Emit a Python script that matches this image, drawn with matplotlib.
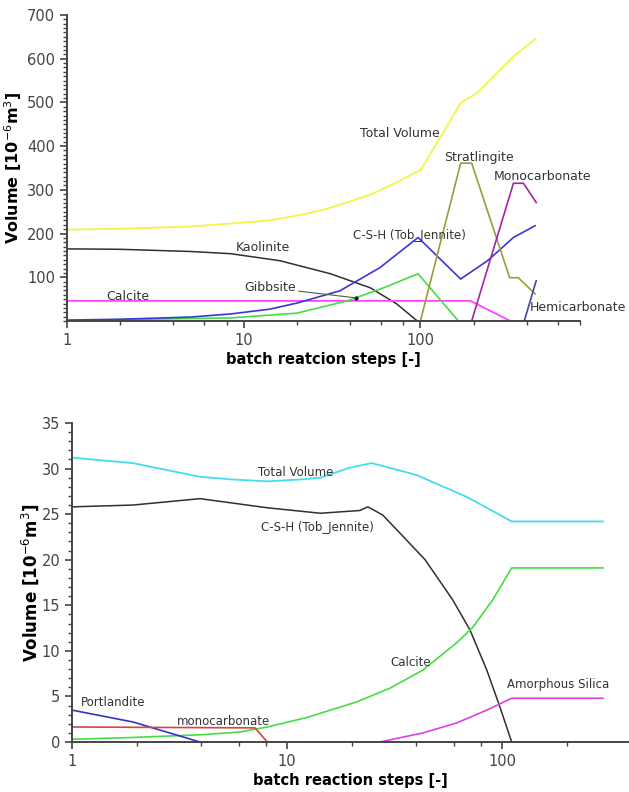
import numpy as np
import matplotlib
matplotlib.use('Agg')
import matplotlib.pyplot as plt
from matplotlib.ticker import FixedLocator, FuncFormatter, MultipleLocator

# ---- top panel data (batch steps vs volume) ----
tv1_x = [1, 2, 5, 8.4, 14, 20, 28, 38.5, 52, 67.5, 100, 134, 169, 210, 336, 446]
tv1_y = [209, 211, 216, 223, 230, 241, 254, 271, 289, 310, 345, 430, 499, 522, 605, 645]

kao_x = [1, 2, 5, 8.4, 16, 31, 52, 73.5, 96]
kao_y = [165, 164, 159, 154, 138, 108, 76, 39, 0]

gib_x = [1, 2, 4, 8.4, 20, 38.5, 62, 97, 164]
gib_y = [1, 3, 5, 7, 18, 46, 76, 108, 0]

csh1_x = [1, 2, 5, 8.4, 14, 20, 35, 59, 97, 169, 240, 336, 446]
csh1_y = [2, 4, 9, 16, 27, 41, 69, 122, 191, 96, 138, 191, 218]

cal1_x = [1, 192, 323]
cal1_y = [46, 46, 0]

str_x = [100, 169, 195, 320, 358, 446]
str_y = [0, 361, 361, 99, 99, 62]

mono1_x = [195, 336, 383, 452]
mono1_y = [0, 315, 315, 271]

hemi_x = [387, 452]
hemi_y = [0, 92]

gib_point = (43, 53)

# ---- bottom panel data ----
tv2_x = [1, 1.92, 3.94, 5.6, 8.1, 11.5, 14.3, 19.6, 24.8, 40, 68.5, 111, 295]
tv2_y = [31.2, 30.6, 29.1, 28.8, 28.6, 28.8, 29.0, 30.1, 30.6, 29.3, 26.9, 24.2, 24.2]

csh2_x = [1, 1.92, 3.94, 8.1, 14.3, 21.8, 23.8, 27.9, 33.6, 43.9, 59, 71, 85, 98, 111]
csh2_y = [25.8, 26.0, 26.7, 25.7, 25.1, 25.4, 25.8, 24.9, 22.9, 20.0, 15.6, 12.3, 7.9, 3.8, 0]

cal2_x = [1, 1.92, 4, 6.04, 8.1, 12.4, 21.1, 30.1, 42.9, 61.7, 73.3, 90.6, 111, 295]
cal2_y = [0.3, 0.5, 0.8, 1.1, 1.65, 2.7, 4.4, 5.9, 7.9, 10.9, 12.6, 15.6, 19.1, 19.1]

amo_x = [27, 42.9, 61.7, 85, 111, 295]
amo_y = [0, 1.0, 2.1, 3.5, 4.8, 4.8]

por_x = [1, 1.92, 3.94]
por_y = [3.5, 2.2, 0]

mono2_x = [1, 7.1, 8.1]
mono2_y = [1.65, 1.55, 0]

ylabel = 'Volume [10$^{-6}$m$^{3}$]'
txt_c = '#333333'
axis_c = '#444444'


def style_axes(ax):
  ax.spines['top'].set_visible(False)
  ax.spines['right'].set_visible(False)
  for s in ('left', 'bottom'):
    ax.spines[s].set_color(axis_c)
    ax.spines[s].set_linewidth(1.4)
  ax.set_xscale('log')
  ax.xaxis.set_major_locator(FixedLocator([1, 10, 100]))
  ax.xaxis.set_major_formatter(FuncFormatter(lambda v, p: '%d' % v))
  ax.xaxis.set_minor_locator(FixedLocator([2, 4, 6, 8, 20, 40, 60, 80, 200, 400, 600, 800]))
  ax.xaxis.set_minor_formatter(FuncFormatter(lambda v, p: ''))
  ax.tick_params(axis='both', which='major', labelsize=10.5, labelcolor='#444444',
                 color=axis_c, length=5, width=1.2, direction='out')
  ax.tick_params(axis='both', which='minor', color=axis_c, length=3, width=1, direction='out')


fig = plt.figure(figsize=(6.29, 7.92), dpi=100)

# ---- top ----
ax1 = fig.add_axes([0.1065, 0.5947, 0.8156, 0.3864])
style_axes(ax1)
ax1.plot(tv1_x, tv1_y, color='#f4f444', lw=1.3)
ax1.plot(kao_x, kao_y, color='#303030', lw=1.1)
ax1.plot(cal1_x, cal1_y, color='#ff44ff', lw=1.3)
ax1.plot(gib_x, gib_y, color='#44dd44', lw=1.2)
ax1.plot(csh1_x, csh1_y, color='#3838d8', lw=1.2)
ax1.plot(str_x, str_y, color='#9c9c38', lw=1.2)
ax1.plot(mono1_x, mono1_y, color='#a424a4', lw=1.2)
ax1.plot(hemi_x, hemi_y, color='#3848b0', lw=1.2)
ax1.set_xlim(1, 800)
ax1.set_ylim(0, 700)
ax1.set_yticks([100, 200, 300, 400, 500, 600, 700])
ax1.yaxis.set_minor_locator(MultipleLocator(10))
ax1.set_xlabel('batch reatcion steps [-]', fontsize=10.5, fontweight='bold', labelpad=3)
ax1.set_ylabel(ylabel, fontsize=11.5, fontweight='bold', labelpad=2)

fs1 = 9
ax1.text(77, 430, 'Total Volume', fontsize=fs1, color=txt_c, ha='center', va='center')
ax1.text(213, 375, 'Stratlingite', fontsize=fs1, color=txt_c, ha='center', va='center')
ax1.text(491, 331, 'Monocarbonate', fontsize=fs1, color=txt_c, ha='center', va='center')
ax1.text(86.6, 195, 'C-S-H (Tob_Jennite)', fontsize=8.5, color=txt_c, ha='center', va='center')
ax1.text(776, 30, 'Hemicarbonate', fontsize=fs1, color=txt_c, ha='center', va='center')
ax1.text(12.9, 168, 'Kaolinite', fontsize=fs1, color=txt_c, ha='center', va='center')
ax1.text(2.22, 57, 'Calcite', fontsize=fs1, color=txt_c, ha='center', va='center')
ax1.annotate('Gibbsite', xy=gib_point, xytext=(14.1, 76), fontsize=fs1, color=txt_c,
             ha='center', va='center',
             arrowprops=dict(arrowstyle='-', color='#555555', lw=0.8, shrinkA=0, shrinkB=0))
ax1.plot([gib_point[0]], [gib_point[1]], 'o', color='black', ms=2)

# ---- bottom ----
ax2 = fig.add_axes([0.1145, 0.0631, 0.8855, 0.4028])
style_axes(ax2)
ax2.plot(tv2_x, tv2_y, color='#44ddee', lw=1.3)
ax2.plot(csh2_x, csh2_y, color='#303030', lw=1.1)
ax2.plot(cal2_x, cal2_y, color='#44dd44', lw=1.2)
ax2.plot(amo_x, amo_y, color='#e040e0', lw=1.2)
ax2.plot(por_x, por_y, color='#3434c4', lw=1.2)
ax2.plot(mono2_x, mono2_y, color='#e04040', lw=1.2)
ax2.set_xlim(1, 390)
ax2.set_ylim(0, 35)
ax2.set_yticks([0, 5, 10, 15, 20, 25, 30, 35])
ax2.yaxis.set_minor_locator(MultipleLocator(1))
ax2.set_xlabel('batch reaction steps [-]', fontsize=10.5, fontweight='bold', labelpad=3)
ax2.set_ylabel(ylabel, fontsize=12, fontweight='bold', labelpad=0)

fs2 = 8.5
ax2.text(11.0, 29.6, 'Total Volume', fontsize=fs2, color=txt_c, ha='center', va='center')
ax2.text(13.9, 23.5, 'C-S-H (Tob_Jennite)', fontsize=fs2, color=txt_c, ha='center', va='center')
ax2.text(37.7, 8.7, 'Calcite', fontsize=fs2, color=txt_c, ha='center', va='center')
ax2.text(182, 6.3, 'Amorphous Silica', fontsize=fs2, color=txt_c, ha='center', va='center')
ax2.text(1.55, 4.3, 'Portlandite', fontsize=fs2, color=txt_c, ha='center', va='center')
ax2.text(5.09, 2.3, 'monocarbonate', fontsize=fs2, color=txt_c, ha='center', va='center')

fig.savefig('out.png', dpi=100)
